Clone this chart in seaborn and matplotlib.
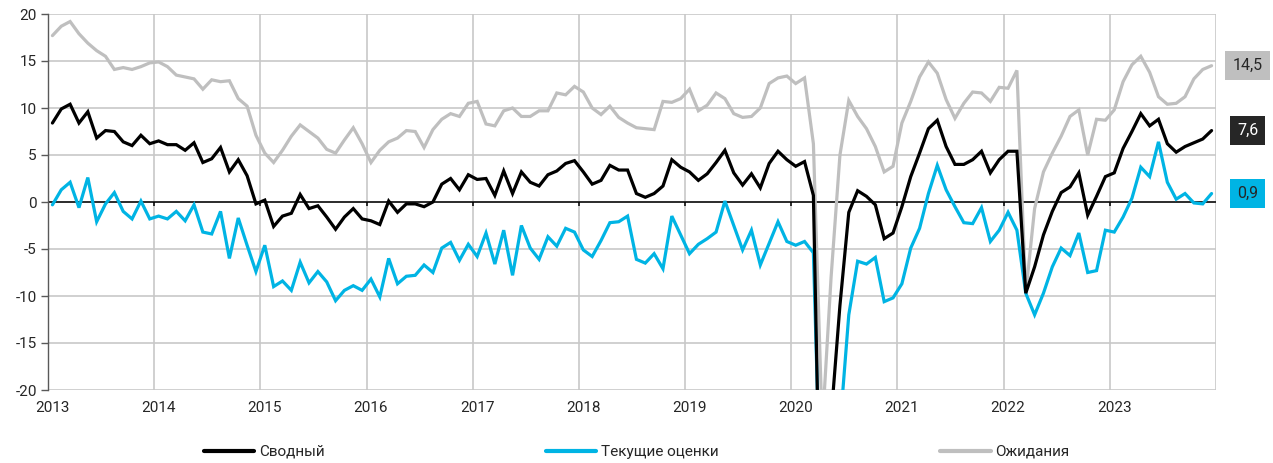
import numpy as np
import pandas as pd
import matplotlib
matplotlib.use("Agg")
import matplotlib.pyplot as plt
from matplotlib.lines import Line2D
import seaborn as sns

# -----------------------------
# Data (monthly, Jan 2013 - Dec 2023)
# -----------------------------
start_month = "2013-01-01"

composite = [
    8.4, 9.9, 10.4, 8.4, 9.6, 6.8, 7.6, 7.5, 6.4, 6.0, 7.1, 6.2,
    6.5, 6.1, 6.1, 5.5, 6.3, 4.2, 4.6, 5.8, 3.2, 4.5, 2.8, -0.2,
    0.2, -2.6, -1.5, -1.2, 0.8, -0.7, -0.4, -1.6, -2.9, -1.6, -0.7, -1.8,
    -2.0, -2.4, 0.1, -1.1, -0.2, -0.2, -0.5, 0.0, 1.9, 2.5, 1.3, 2.9,
    2.4, 2.5, 0.7, 3.3, 0.9, 3.2, 2.1, 1.7, 2.9, 3.3, 4.1, 4.4,
    3.2, 1.9, 2.3, 3.9, 3.4, 3.4, 0.9, 0.5, 0.9, 1.7, 4.5, 3.7,
    3.2, 2.3, 3.0, 4.2, 5.5, 3.1, 1.8, 3.0, 1.5, 4.1, 5.4, 4.5,
    3.8, 4.3, 0.7, -46.0, -23.0, -11.0, -1.1, 1.2, 0.6, -0.3, -3.9, -3.3,
    -0.5, 2.7, 5.2, 7.8, 8.7, 5.9, 4.0, 4.0, 4.5, 5.4, 3.1, 4.5,
    5.4, 5.4, -9.7, -6.9, -3.5, -1.0, 1.0, 1.6, 3.1, -1.4, 0.6, 2.7,
    3.1, 5.7, 7.5, 9.4, 8.1, 8.8, 6.2, 5.3, 5.9, 6.3, 6.7, 7.6,
]

current = [
    -0.3, 1.3, 2.1, -0.6, 2.6, -2.1, -0.2, 1.0, -1.0, -1.8, 0.1, -1.8,
    -1.5, -1.8, -1.0, -2.0, -0.3, -3.2, -3.4, -1.0, -6.0, -1.7, -4.6, -7.4,
    -4.6, -9.0, -8.4, -9.4, -6.4, -8.6, -7.4, -8.5, -10.5, -9.4, -8.9, -9.4,
    -8.2, -10.1, -6.0, -8.7, -7.9, -7.8, -6.7, -7.5, -4.9, -4.3, -6.2, -4.5,
    -5.8, -3.3, -6.6, -3.0, -7.8, -2.5, -4.9, -6.1, -3.7, -4.7, -2.8, -3.2,
    -5.1, -5.8, -4.1, -2.2, -2.1, -1.5, -6.1, -6.5, -5.5, -7.1, -1.5, -3.5,
    -5.5, -4.5, -3.9, -3.2, 0.1, -2.5, -5.1, -3.0, -6.7, -4.4, -2.1, -4.2,
    -4.6, -4.2, -5.4, -38.0, -33.0, -24.0, -12.0, -6.3, -6.6, -5.9, -10.6, -10.2,
    -8.7, -4.9, -2.8, 0.9, 3.9, 1.3, -0.5, -2.2, -2.3, -0.6, -4.2, -3.0,
    -1.1, -3.0, -9.7, -12.0, -9.7, -6.9, -4.9, -5.7, -3.3, -7.5, -7.3, -3.0,
    -3.2, -1.6, 0.4, 3.7, 2.7, 6.4, 2.1, 0.3, 0.9, -0.1, -0.2, 0.9,
]

expectations = [
    17.7, 18.7, 19.2, 17.9, 16.9, 16.1, 15.5, 14.1, 14.3, 14.1, 14.4, 14.8,
    14.9, 14.4, 13.5, 13.3, 13.1, 12.0, 13.0, 12.8, 12.9, 11.0, 10.2, 7.1,
    5.2, 4.2, 5.5, 7.0, 8.2, 7.5, 6.8, 5.6, 5.2, 6.6, 7.9, 6.2,
    4.2, 5.5, 6.4, 6.8, 7.6, 7.5, 5.8, 7.7, 8.8, 9.4, 9.1, 10.5,
    10.7, 8.3, 8.1, 9.7, 10.0, 9.1, 9.1, 9.7, 9.7, 11.6, 11.4, 12.3,
    11.7, 10.0, 9.3, 10.2, 9.0, 8.4, 7.9, 7.8, 7.7, 10.7, 10.6, 11.0,
    12.0, 9.7, 10.3, 11.6, 11.0, 9.4, 9.0, 9.1, 10.0, 12.6, 13.2, 13.4,
    12.6, 13.2, 6.2, -24.0, -8.0, 5.0, 10.8, 9.1, 7.8, 5.9, 3.2, 3.8,
    8.4, 10.7, 13.3, 14.9, 13.7, 10.9, 8.9, 10.5, 11.7, 11.6, 10.7, 12.2,
    12.1, 14.0, -9.7, -0.7, 3.2, 5.2, 7.0, 9.1, 9.8, 5.0, 8.8, 8.7,
    9.8, 12.8, 14.6, 15.5, 13.8, 11.2, 10.4, 10.5, 11.2, 13.1, 14.1, 14.5,
]

series_names = ["Сводный", "Текущие оценки", "Ожидания"]
series_colors = ["#000000", "#00b4e4", "#bfbfbf"]
label_text_colors = ["white", "#262626", "#262626"]
label_box_colors = ["#262626", "#00b4e4", "#bfbfbf"]

years = list(range(2013, 2025))
year_labels = [str(y) for y in range(2013, 2024)]

# -----------------------------
# Build dataframe
# -----------------------------
dates = pd.date_range(start_month, periods=len(composite), freq="MS")
xpos = dates.year + (dates.month - 0.5) / 12.0

df = pd.DataFrame({
    "x": xpos,
    "Сводный": composite,
    "Текущие оценки": current,
    "Ожидания": expectations,
})

# -----------------------------
# Plot
# -----------------------------
sns.set_theme(style="white")
plt.rcParams["font.family"] = ["Roboto", "DejaVu Sans"]

fig = plt.figure(figsize=(12.73, 4.63), dpi=100)
ax = fig.add_axes([48 / 1273, 1 - 390 / 463, 1168 / 1273, 376 / 463])

grid_color = "#c8c8c8"
for yv in range(-20, 21, 5):
    ax.axhline(yv, color=grid_color, lw=1.2, zorder=0)
for yr in years[1:]:
    ax.axvline(yr, color=grid_color, lw=1.2, zorder=0)

ax.axhline(0, color="black", lw=1.1, zorder=1)
ax.vlines(years[1:-1], -0.45, 0, color="black", lw=1.1, zorder=1)

# draw order: grey, blue, black on top
zorders = [5, 4, 3]
for name, color, z in zip(series_names, series_colors, zorders):
    sns.lineplot(data=df, x="x", y=name, color=color, lw=2.3, ax=ax,
                 zorder=z, solid_joinstyle="miter")

ax.set_xlim(2013, 2024)
ax.set_ylim(-20, 20)
ax.set_xlabel("")
ax.set_ylabel("")

ax.set_yticks(range(-20, 21, 5))
ax.set_yticklabels([str(v) for v in range(-20, 21, 5)], fontsize=11, color="#262626")
ax.tick_params(axis="y", left=True, length=5, width=1, color="#595959", pad=3)

ax.set_xticks([y + 0.5 / 12 for y in range(2013, 2024)])
ax.set_xticklabels(year_labels, fontsize=11, color="#262626")
ax.tick_params(axis="x", bottom=False, length=0, pad=8)

for s in ["top", "right", "bottom"]:
    ax.spines[s].set_visible(False)
ax.spines["left"].set_color("#595959")
ax.spines["left"].set_linewidth(1.0)
ax.grid(False)

# right-hand value labels
last_vals = [composite[-1], current[-1], expectations[-1]]
for val, tc, bc in zip(last_vals, label_text_colors, label_box_colors):
    ax.text(1.027, val, f"{val:.1f}".replace(".", ","),
            transform=ax.get_yaxis_transform(), ha="center", va="center",
            fontsize=11.5, color=tc, clip_on=False,
            bbox=dict(boxstyle="square,pad=0.45", fc=bc, ec="none"))

# legend
handles = [Line2D([0], [0], color=c, lw=3) for c in series_colors]
fig.legend(handles, series_names, loc="center", bbox_to_anchor=(0.5, 11 / 463),
           ncol=3, frameon=False, fontsize=11, handlelength=3.3,
           handletextpad=0.3, columnspacing=14.5)

fig.savefig("out.png", dpi=100)
